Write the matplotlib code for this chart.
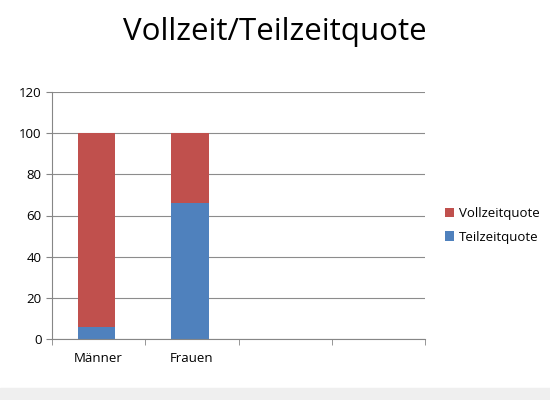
import matplotlib
matplotlib.use('Agg')
import matplotlib.pyplot as plt
import numpy as np

categories = ['Männer', 'Frauen', '', '']
teilzeit = [6, 66, 0, 0]
vollzeit = [94, 34, 0, 0]
yticks = [0, 20, 40, 60, 80, 100, 120]

plt.rcParams['font.family'] = ['Open Sans', 'DejaVu Sans']

fig = plt.figure(figsize=(5.5, 4), dpi=100)
fig.patches.append(plt.Rectangle((0, 0), 1, 0.03, transform=fig.transFigure, color='#efefef', zorder=-1))
ax = fig.add_axes([0.0945, 0.1525, 0.679, 0.6175])

x = np.arange(len(categories))
ax.bar(x[:2] - 0.02, teilzeit[:2], width=0.4, color='#4F81BD', label='Teilzeitquote', zorder=2)
ax.bar(x[:2] - 0.02, vollzeit[:2], width=0.4, bottom=teilzeit[:2], color='#C0504D', label='Vollzeitquote', zorder=2)

ax.set_xlim(-0.5, len(categories) - 0.5)
ax.set_ylim(0, 120)
ax.set_yticks(yticks)
ax.set_xticks(x)
ax.set_xticklabels(categories, fontsize=9.5)
ax.tick_params(axis='x', length=0, pad=9)
ax.set_xticks(np.arange(-0.5, len(categories)), minor=True)
ax.tick_params(axis='x', which='minor', length=4, color='#868686')
ax.tick_params(axis='y', length=4, color='#868686', labelsize=9.5)
ax.yaxis.grid(True, color='#8c8c8c', linewidth=0.8, zorder=0)
for s in ['top', 'right']:
    ax.spines[s].set_visible(False)
for s in ['left', 'bottom']:
    ax.spines[s].set_color('#868686')

handles, labels = ax.get_legend_handles_labels()
ax.legend(handles[::-1], labels[::-1], loc='center left', bbox_to_anchor=(1.02, 0.46),
          frameon=False, fontsize=9.5, handlelength=0.7, handleheight=0.7, handletextpad=0.4,
          labelspacing=0.8)

fig.text(0.5, 0.92, 'Vollzeit/Teilzeitquote', ha='center', va='center', fontsize=22.5)

plt.savefig('out.png', dpi=100)
